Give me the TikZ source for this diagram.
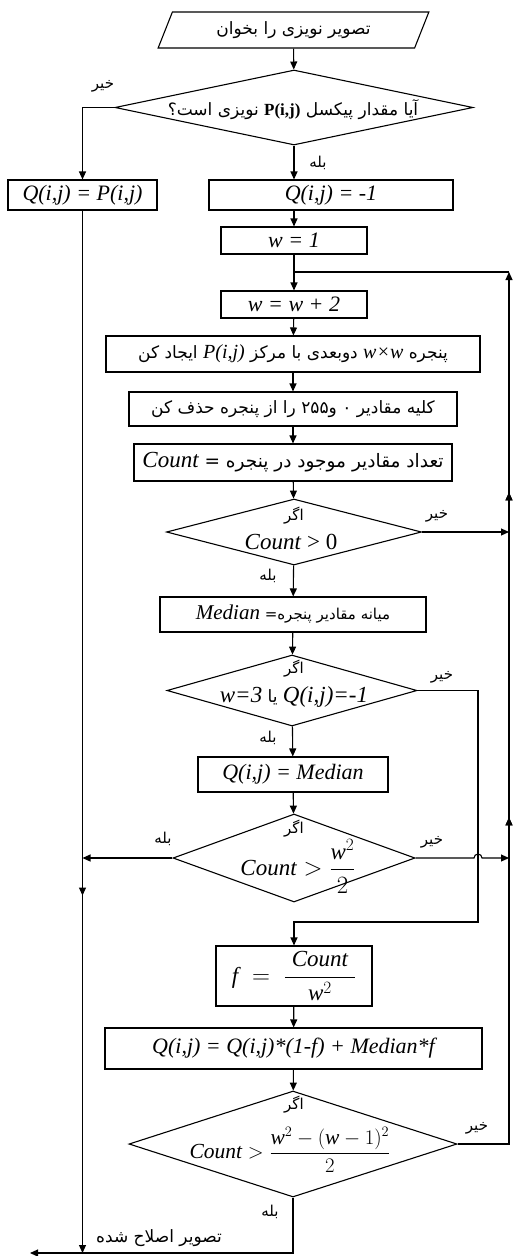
\documentclass[tikz,border=0pt]{standalone}
\usepackage{amsmath}
\usepackage{fontspec}
\setmainfont{Liberation Serif}
\newfontfamily\fa[Script=Arabic]{DejaVu Sans}
\TeXXeTstate=1
\usetikzlibrary{shapes.geometric,arrows.meta,decorations.markings}
\newcommand\faR[1]{{\fa\beginR #1\endR}}
\newcommand\LL[2]{\beginL{\rmfamily\itshape\fontsize{#1}{#1}\selectfont #2}\endL{}}
\newcommand\vv[1]{\text{\itshape #1}}
\newcommand\fs[1]{\fontsize{#1}{#1}\selectfont}
\begin{document}
\begin{tikzpicture}[x=1pt,y=-1pt,line width=1.1pt,
  box/.style={draw,rectangle,inner sep=0pt,line width=1.1pt},
  dia/.style={draw,diamond,inner sep=0pt,line width=1.1pt},
  arr/.style={-{Triangle[length=8pt,width=7pt]}},
  midarrow/.style={postaction={decorate},decoration={markings,mark=at position #1 with {\arrow{Triangle[length=8pt,width=7pt]}}}},
  lat/.style={font=\fontsize{22}{25}\selectfont\itshape},
  fatx/.style={font=\fa\fontsize{17}{20}\selectfont,inner sep=0pt},
  lbl/.style={font=\fa\fontsize{15}{17}\selectfont,inner sep=0pt},
  mth/.style={font=\fontsize{23}{26}\selectfont,inner sep=0pt}]
\useasboundingbox (0,0) rectangle (513,1256);

% shapes
\node[draw,trapezium,trapezium left angle=62,trapezium right angle=118,
  minimum width=271pt,minimum height=36pt,trapezium stretches=true,inner sep=0pt,
  fatx] (in) at (293.5,30) {\faR{تصویر نویزی را بخوان}};
\node[dia,minimum width=358pt,minimum height=75pt] (d1) at (294,107.5) {};
\node[fatx] (t1) at (293,110) {\faR{آیا مقدار پیکسل \beginL{\rmfamily\bfseries\fs{17}P(i,j)}\endL{} نویزی است؟}};
\node[box,lat,minimum width=149pt,minimum height=30pt] (bL) at (82.5,195) {Q(i,j) = P(i,j)};
\node[box,lat,minimum width=244pt,minimum height=30pt] (bQ1) at (331,195) {Q(i,j) = -1};
\node[box,lat,minimum width=146pt,minimum height=27pt] (bw1) at (294,240.5) {w = 1};
\node[box,lat,minimum width=146pt,minimum height=27pt] (bw2) at (294,304.5) {w = w + 2};
\node[box,fatx,minimum width=374pt,minimum height=36pt] (bwin) at (293,354)
  {\faR{پنجره \LL{20}{w×w} دوبعدی با مرکز \LL{20}{P(i,j)} ایجاد کن}};
\node[box,fatx,minimum width=328pt,minimum height=34pt] (bdel) at (293,409)
  {\faR{کلیه مقادیر \beginL ۰\endL{} و\beginL ۲۵۵\endL{} را از پنجره حذف کن}};
\node[box,fatx,font=\fa\fs{18.5},minimum width=318pt,minimum height=37pt] (bcnt) at (293,462.5)
  {\faR{تعداد مقادیر موجود در پنجره = \LL{23}{Count}}};
\node[dia,minimum width=255pt,minimum height=66pt] (d2) at (294,532) {};
\node[lbl] (d2a) at (294,516) {\faR{اگر}};
\node[mth] (d2b) at (291,542) {\textit{Count} > 0};
\node[box,fatx,font=\fa\fs{15},minimum width=266pt,minimum height=35pt] (bmed) at (293,614.5)
  {\faR{میانه مقادیر پنجره= \LL{21}{Median}}};
\node[dia,minimum width=250pt,minimum height=71pt] (d3) at (292,690.5) {};
\node[lbl] (d3a) at (294,669) {\faR{اگر}};
\node[fatx] (d3b) at (294,697) {\faR{\LL{23}{Q(i,j)=-1} یا \LL{23}{w=3}}};
\node[box,lat,minimum width=190pt,minimum height=35pt] (bqm) at (293,774.5) {Q(i,j) = Median};
\node[dia,minimum width=242pt,minimum height=88pt] (d4) at (294,858) {};
\node[lbl] (d4a) at (294,829) {\faR{اگر}};
\node[mth] (d4b) at (298,866) {$\vv{Count} > \dfrac{\vv{w}^{2}}{2}$};
\node[box,mth,minimum width=156pt,minimum height=60pt] (bf) at (294,976) {$\vv{f} \;=\; \dfrac{\;\vv{Count}\;}{\vv{w}^{2}}$};
\node[box,lat,minimum width=377pt,minimum height=41pt] (bupd) at (293.5,1048.5) {Q(i,j) = Q(i,j)*(1-f) + Median*f};
\node[dia,minimum width=328pt,minimum height=106pt] (d5) at (293,1144) {};
\node[lbl] (d5a) at (294,1105) {\faR{اگر}};
\node[mth,font=\fs{21.5}] (d5b) at (290,1150) {$\vv{Count} > \dfrac{\vv{w}^{2} - (\vv{w} - 1)^{2}}{2}$};

% coordinates
\coordinate (rTop) at (509,272);
\coordinate (j1) at (294,272);
\coordinate (outE) at (30,1253);
\coordinate (n3) at (478,922);
\coordinate (hopL) at (474,858);

% connectors
\draw[arr] (in) -- (d1);
\draw[arr] (d1.west) -| (bL.north);
\draw[arr] (d1.south) -- (d1.south |- bQ1.north);
\draw[arr] (bQ1.south -| bw1.north) -- (bw1.north);
\draw[arr] (bw1) -- (bw2);
\draw[arr] (bw2) -- (bwin);
\draw[arr] (bwin) -- (bdel);
\draw[arr] (bdel) -- (bcnt);
\draw[arr] (bcnt) -- (d2);
\draw[arr] (d2) -- (bmed);
\draw[arr] (bmed) -- (d3);
\draw[arr] (d3) -- (bqm);
\draw[arr] (bqm) -- (d4);
\draw[arr] (bf) -- (bupd);
\draw[arr] (bupd) -- (d5);
\draw[arr] (d2.east) -- (d2.east -| rTop);
\draw[arr] (d3.east) -| (n3) -| (bf.north);
\draw[arr] (d4.west) -- (d4.west -| bL.south);
\draw[arr] (d4.east) -- (hopL) arc[start angle=180,end angle=360,radius=4] -- (d4.east -| rTop);
\draw[arr,midarrow=685pt] (bL.south) -- (bL.south |- outE);
\draw[arr,midarrow=378pt,midarrow=703pt] (d5.east) -- (d5.east -| rTop) -- (rTop);
\draw (rTop) -- (j1);
\draw[arr] (d5.south) |- (outE);

% labels
\node[lbl] (l1) at (103,86) {\faR{خیر}};
\node[lbl] (l2) at (318,163) {\faR{بله}};
\node[lbl] (l3) at (437,516) {\faR{خیر}};
\node[lbl] (l4) at (268,576) {\faR{بله}};
\node[lbl] (l5) at (442,677) {\faR{خیر}};
\node[lbl] (l6) at (268,738) {\faR{بله}};
\node[lbl] (l7) at (163,839) {\faR{بله}};
\node[lbl] (l8) at (432,842) {\faR{خیر}};
\node[lbl] (l9) at (477,1128) {\faR{خیر}};
\node[lbl] (l10) at (270,1212) {\faR{بله}};
\node[lbl,font=\fa\fs{17}] (l11) at (159,1238) {\faR{تصویر اصلاح شده}};
\end{tikzpicture}
\end{document}
